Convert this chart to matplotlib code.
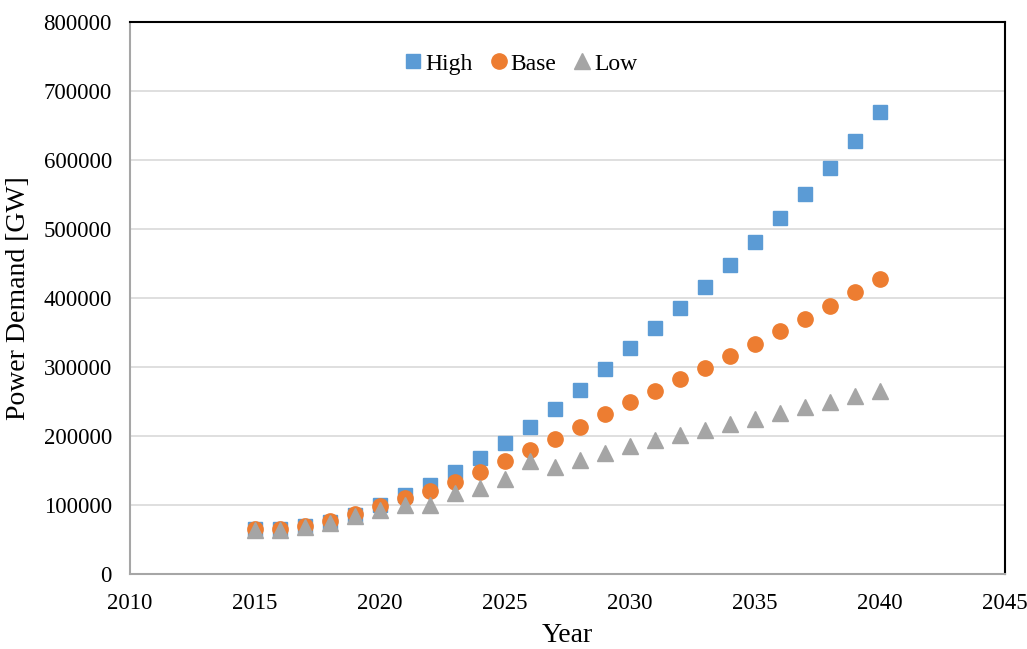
import matplotlib
matplotlib.use('Agg')
from matplotlib import pyplot as plt

years = list(range(2015, 2041))
high = [65000, 65000, 69000, 76000, 86000, 100000, 114500, 129500, 148500, 168000,
        190500, 213500, 238500, 266500, 296500, 327000, 356000, 385500, 416500, 448500,
        481000, 516000, 551000, 588000, 628000, 670000]
base = [65000, 65000, 69500, 76500, 87000, 98500, 109500, 120500, 134000, 148500,
        164000, 180000, 195000, 212500, 231500, 249500, 265800, 282000, 299000, 316200,
        333500, 351500, 369500, 387800, 408000, 428000]
low = [64000, 64000, 67500, 74500, 83500, 93000, 100000, 100000, 117000, 124500,
       137000, 164000, 155000, 164500, 175000, 184800, 193500, 201200, 209000, 216800,
       224000, 233000, 241500, 249500, 257500, 265500]

plt.rcParams['font.family'] = ['Liberation Serif', 'DejaVu Serif']
fig = plt.figure(figsize=(10.27, 6.49), dpi=100)
ax = fig.add_axes([0.1266, 0.1156, 0.852, 0.8505])

ax.plot(years, high, linestyle='none', marker='s', markersize=10,
        color='#5B9BD5', label='High', zorder=3)
ax.plot(years, base, linestyle='none', marker='o', markersize=11,
        color='#ED7D31', label='Base', zorder=4)
ax.plot(years, low, linestyle='none', marker='^', markersize=11,
        color='#A5A5A5', label='Low', zorder=5)

ax.set_xlim(2010, 2045)
ax.set_ylim(0, 800000)
ax.xaxis.set_major_locator(plt.MultipleLocator(5))
ax.yaxis.set_major_locator(plt.MultipleLocator(100000))
ax.grid(axis='y', color='#D9D9D9', linewidth=1.2)
ax.set_axisbelow(True)
ax.tick_params(length=0, labelsize=16.5)
ax.tick_params(axis='y', pad=13)
ax.tick_params(axis='x', pad=14)

ax.spines['left'].set_color('#A6A6A6')
ax.spines['bottom'].set_color('#A6A6A6')
ax.spines['left'].set_linewidth(1.5)
ax.spines['bottom'].set_linewidth(1.5)
ax.spines['top'].set_color('black')
ax.spines['right'].set_color('black')
ax.spines['top'].set_linewidth(1.5)
ax.spines['right'].set_linewidth(1.5)

ax.set_xlabel('Year', fontsize=20, labelpad=6)
ax.set_ylabel('Power Demand [GW]', fontsize=20, labelpad=9)

ax.legend(loc='upper center', bbox_to_anchor=(0.445, 0.982), ncol=3, frameon=False,
          fontsize=17, handletextpad=0.0, columnspacing=0.6, markerscale=1.0,
          handlelength=1.0)

plt.savefig('out.png', dpi=100)
